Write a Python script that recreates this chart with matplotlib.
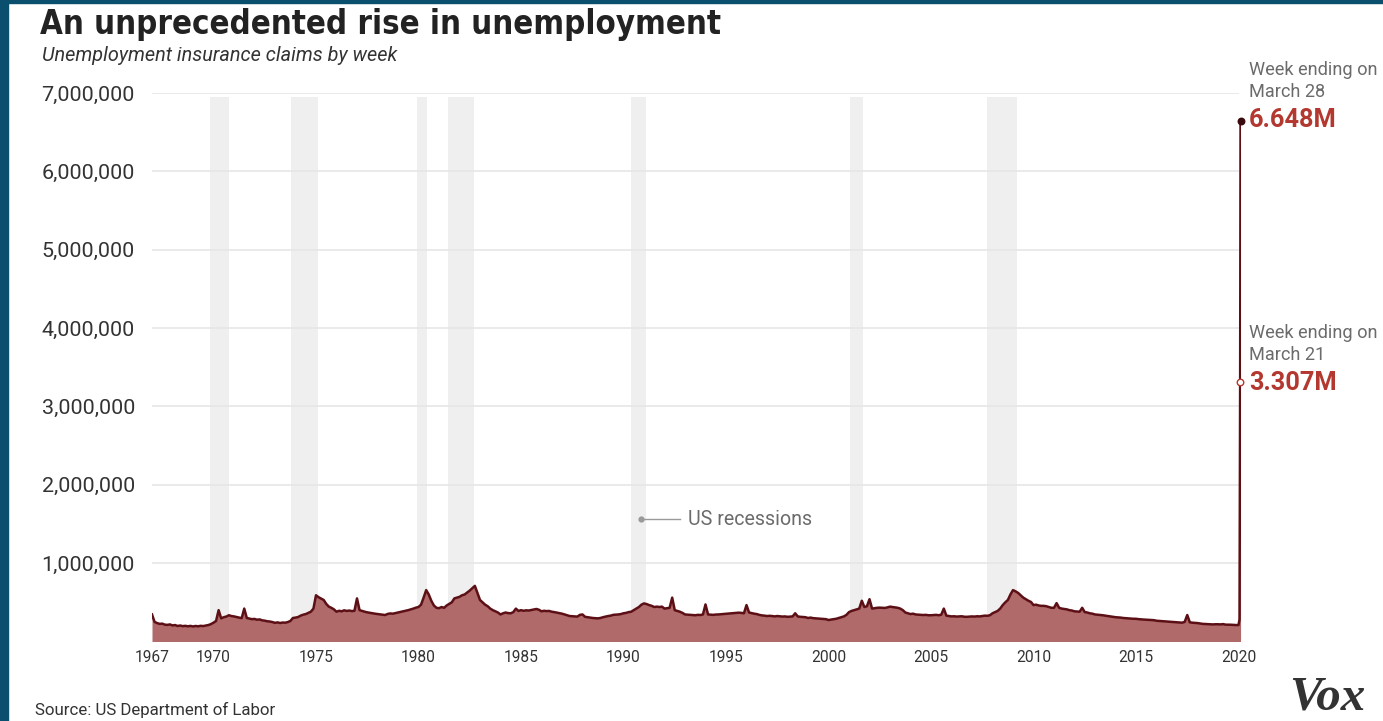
import matplotlib
matplotlib.use("Agg")
import matplotlib.pyplot as plt
from matplotlib.patches import Rectangle
from matplotlib import font_manager as fm

# ---------------- data (weekly claims, thousands) ----------------
# eight readings per year, 1967-2019
years = list(range(1967, 2020))
claims_by_year_k = [
    [346, 250, 235, 225, 228, 215, 212, 218],  # 1967
    [205, 210, 198, 204, 196, 200, 194, 199],  # 1968
    [192, 198, 194, 200, 197, 203, 210, 222],  # 1969
    [240, 262, 400, 295, 310, 318, 335, 325],  # 1970
    [320, 312, 305, 298, 420, 300, 292, 285],  # 1971
    [288, 278, 282, 270, 266, 258, 255, 248],  # 1972
    [238, 244, 236, 242, 240, 248, 262, 300],  # 1973
    [305, 312, 330, 342, 350, 365, 380, 420],  # 1974
    [590, 565, 548, 530, 480, 445, 430, 410],  # 1975
    [380, 392, 385, 398, 390, 395, 388, 392],  # 1976
    [550, 400, 390, 380, 372, 366, 360, 355],  # 1977
    [350, 346, 342, 338, 352, 358, 355, 362],  # 1978
    [370, 378, 385, 392, 400, 410, 420, 432],  # 1979
    [440, 470, 560, 656, 600, 520, 460, 430],  # 1980
    [425, 440, 430, 460, 480, 500, 550, 560],  # 1981
    [570, 590, 600, 625, 650, 680, 710, 620],  # 1982
    [530, 500, 470, 450, 420, 400, 385, 370],  # 1983
    [345, 360, 370, 362, 360, 375, 420, 390],  # 1984
    [400, 392, 398, 395, 402, 408, 415, 405],  # 1985
    [385, 392, 388, 390, 380, 375, 368, 360],  # 1986
    [355, 345, 335, 325, 322, 320, 318, 340],  # 1987
    [345, 315, 310, 305, 300, 298, 295, 300],  # 1988
    [310, 318, 325, 330, 340, 342, 345, 350],  # 1989
    [360, 365, 375, 380, 400, 420, 440, 470],  # 1990
    [486, 478, 465, 455, 440, 445, 440, 445],  # 1991
    [420, 425, 430, 560, 400, 390, 380, 365],  # 1992
    [345, 342, 340, 338, 335, 340, 338, 345],  # 1993
    [473, 345, 342, 340, 344, 345, 348, 350],  # 1994
    [355, 358, 360, 362, 365, 368, 365, 360],  # 1995
    [465, 370, 362, 355, 350, 340, 333, 330],  # 1996
    [325, 328, 325, 320, 325, 322, 318, 320],  # 1997
    [315, 318, 320, 360, 320, 315, 312, 310],  # 1998
    [300, 305, 298, 295, 292, 290, 288, 285],  # 1999
    [274, 280, 285, 290, 300, 310, 320, 340],  # 2000
    [375, 390, 400, 410, 420, 520, 440, 450],  # 2001
    [540, 420, 425, 430, 432, 430, 428, 435],  # 2002
    [445, 440, 435, 430, 420, 400, 370, 360],  # 2003
    [350, 355, 345, 342, 340, 338, 340, 335],  # 2004
    [335, 338, 340, 335, 342, 420, 330, 325],  # 2005
    [320, 322, 318, 320, 322, 316, 315, 318],  # 2006
    [320, 318, 322, 320, 325, 330, 328, 335],  # 2007
    [360, 375, 390, 420, 465, 500, 530, 600],  # 2008
    [656, 640, 620, 590, 560, 540, 520, 505],  # 2009
    [465, 470, 460, 455, 455, 450, 440, 430],  # 2010
    [430, 490, 430, 420, 415, 410, 400, 395],  # 2011
    [385, 382, 380, 430, 375, 370, 360, 355],  # 2012
    [345, 342, 340, 335, 330, 325, 320, 315],  # 2013
    [310, 308, 305, 300, 298, 295, 292, 290],  # 2014
    [290, 285, 282, 280, 278, 276, 275, 272],  # 2015
    [265, 262, 260, 258, 255, 252, 250, 248],  # 2016
    [245, 242, 240, 250, 338, 245, 240, 238],  # 2017
    [235, 230, 225, 223, 220, 220, 218, 220],  # 2018
    [220, 218, 222, 215, 215, 214, 212, 210],  # 2019
]
# final weeks of March 2020
week_2020 = [2020.00, 2020.05, 2020.08, 2020.10]
claims_2020_k = [210, 282, 3307, 6648]

rec_start = [1969.83, 1973.78, 1979.93, 1981.44, 1990.37, 2001.05, 2007.73]
rec_end = [1970.76, 1975.10, 1980.41, 1982.71, 1991.10, 2001.68, 2009.20]

y_ticks = [1_000_000, 2_000_000, 3_000_000, 4_000_000, 5_000_000, 6_000_000, 7_000_000]
y_labels = ["1,000,000", "2,000,000", "3,000,000", "4,000,000", "5,000,000", "6,000,000", "7,000,000"]
x_ticks = [1967, 1970, 1975, 1980, 1985, 1990, 1995, 2000, 2005, 2010, 2015, 2020]
x_labels = [str(v) for v in x_ticks]

march21_val = 3307000
march28_val = 6648000

# assemble series
week = []
claims = []
for y, row in zip(years, claims_by_year_k):
    n = len(row)
    for i, v in enumerate(row):
        week.append(y + i / n)
        claims.append(v * 1000)
for w, v in zip(week_2020, claims_2020_k):
    week.append(w)
    claims.append(v * 1000)

# ---------------- styling ----------------
W, H, DPI = 1383, 721, 100
LINE = "#5c1016"
FILL = "#b06a6a"
BAND = "#efefef"
GRID = "#e6e6e6"
RED = "#b3382f"
GRAY = "#6b6b6b"
DARK = "#222222"

names = {f.name for f in fm.fontManager.ttflist}
SANS = "Roboto" if "Roboto" in names else "DejaVu Sans"
if "Liberation Sans Narrow" in names:
    TITLE_KW = dict(family="Liberation Sans Narrow", fontweight="bold")
else:
    TITLE_KW = dict(family="DejaVu Sans", fontweight="bold", fontstretch="condensed")

fig = plt.figure(figsize=(W / DPI, H / DPI), dpi=DPI)
renderer = fig.canvas.get_renderer()


def fit_size(s, width_px, **kw):
    t = fig.text(0, 0, s, fontsize=20, **kw)
    w = t.get_window_extent(renderer).width
    t.remove()
    return 20 * width_px / w


def ftext(x, y, s, **kw):
    return fig.text(x / W, 1 - y / H, s, **kw)


# border
fig.patches.append(Rectangle((0, 0), 8 / W, 1, transform=fig.transFigure, color="#0b4f6e", zorder=10))
fig.patches.append(Rectangle((0, 1 - 3 / H), 1, 3 / H, transform=fig.transFigure, color="#0b4f6e", zorder=10))

# axes
x0, x1 = 1967.0, 2020.12
left_px, bottom_px, top_px = 152, 641.5, 93
px_per_year = 20.5
right_px = left_px + (x1 - x0) * px_per_year
ax = fig.add_axes([left_px / W, (H - bottom_px) / H, (right_px - left_px) / W, (bottom_px - top_px) / H])
ax.set_xlim(x0, x1)
ax.set_ylim(0, 7_000_000)
for s in ax.spines.values():
    s.set_visible(False)

for a, b in zip(rec_start, rec_end):
    ax.axvspan(a, b, ymin=0, ymax=6.95 / 7, color=BAND, lw=0, zorder=0)

ax.hlines(y_ticks, x0, 2020.0, color=GRID, lw=1.2, zorder=1)

ax.fill_between(week, claims, 0, color=FILL, lw=0, zorder=2)
ax.plot(week, claims, color=LINE, lw=1.8, zorder=3, solid_joinstyle="round")

ytick_fs = fit_size("7,000,000", 93, family=SANS)
xtick_fs = fit_size("1967", 35, family=SANS)
ax.set_yticks(y_ticks)
ax.set_yticklabels(y_labels, fontsize=ytick_fs, family=SANS, color="#333333")
ax.set_xticks(x_ticks)
ax.set_xticklabels(x_labels, fontsize=xtick_fs, family=SANS, color="#333333")
ax.tick_params(axis="y", length=0, pad=17 * 72 / DPI)
ax.tick_params(axis="x", length=0, pad=9 * 72 / DPI)

# markers on the spike
ax.scatter([week_2020[-1]], [march28_val], s=22, color="#3a0a0e", zorder=5, clip_on=False)
ax.scatter([week_2020[-2]], [march21_val], s=22, facecolor="white", edgecolor=RED, lw=1.0,
           zorder=5, clip_on=False)

# US recessions pointer
ax.plot([1990.85, 1992.75], [1_563_000, 1_563_000], color="#9a9a9a", lw=1.0, zorder=4)
ax.scatter([1990.85], [1_563_000], s=12, color="#9a9a9a", zorder=4)
rec_fs = fit_size("US recessions", 124, family=SANS)
ax.text(1993.15, 1_563_000, "US recessions", fontsize=rec_fs, family=SANS, color=GRAY,
        va="center", ha="left", zorder=4)

# title & subtitle
title_fs = fit_size("An unprecedented rise in unemployment", 682, **TITLE_KW)
ftext(40, 34, "An unprecedented rise in unemployment", fontsize=title_fs, color=DARK,
      va="baseline", ha="left", **TITLE_KW)
sub_fs = fit_size("Unemployment insurance claims by week", 354, family=SANS, style="italic")
ftext(42, 61, "Unemployment insurance claims by week", fontsize=sub_fs, family=SANS,
      style="italic", color="#333333", va="baseline", ha="left")

# right annotations
ann_fs = fit_size("Week ending on", 128, family=SANS)
num_fs = fit_size("6.648M", 88, family=SANS, fontweight="bold")
ftext(1249, 70, "Week ending on", fontsize=ann_fs, family=SANS, color=GRAY, va="center", ha="left")
ftext(1249, 92, "March 28", fontsize=ann_fs, family=SANS, color=GRAY, va="center", ha="left")
ftext(1249, 120, "6.648M", fontsize=num_fs, family=SANS, fontweight="bold", color=RED, va="center", ha="left")
ftext(1249, 333, "Week ending on", fontsize=ann_fs, family=SANS, color=GRAY, va="center", ha="left")
ftext(1249, 355, "March 21", fontsize=ann_fs, family=SANS, color=GRAY, va="center", ha="left")
ftext(1249, 383, "3.307M", fontsize=num_fs, family=SANS, fontweight="bold", color=RED, va="center", ha="left")

# source
src_fs = fit_size("Source: US Department of Labor", 240, family=SANS)
ftext(35, 710, "Source: US Department of Labor", fontsize=src_fs, family=SANS, color="#333333",
      va="center", ha="left")

# Vox logo
vox_kw = dict(family="Liberation Serif", fontweight="bold", style="italic")
vox_fs = fit_size("Vox", 76, **vox_kw)
ftext(1289, 709, "Vox", fontsize=vox_fs, color="#333333", va="baseline", ha="left", **vox_kw)

fig.savefig("out.png", dpi=DPI, facecolor="white")
